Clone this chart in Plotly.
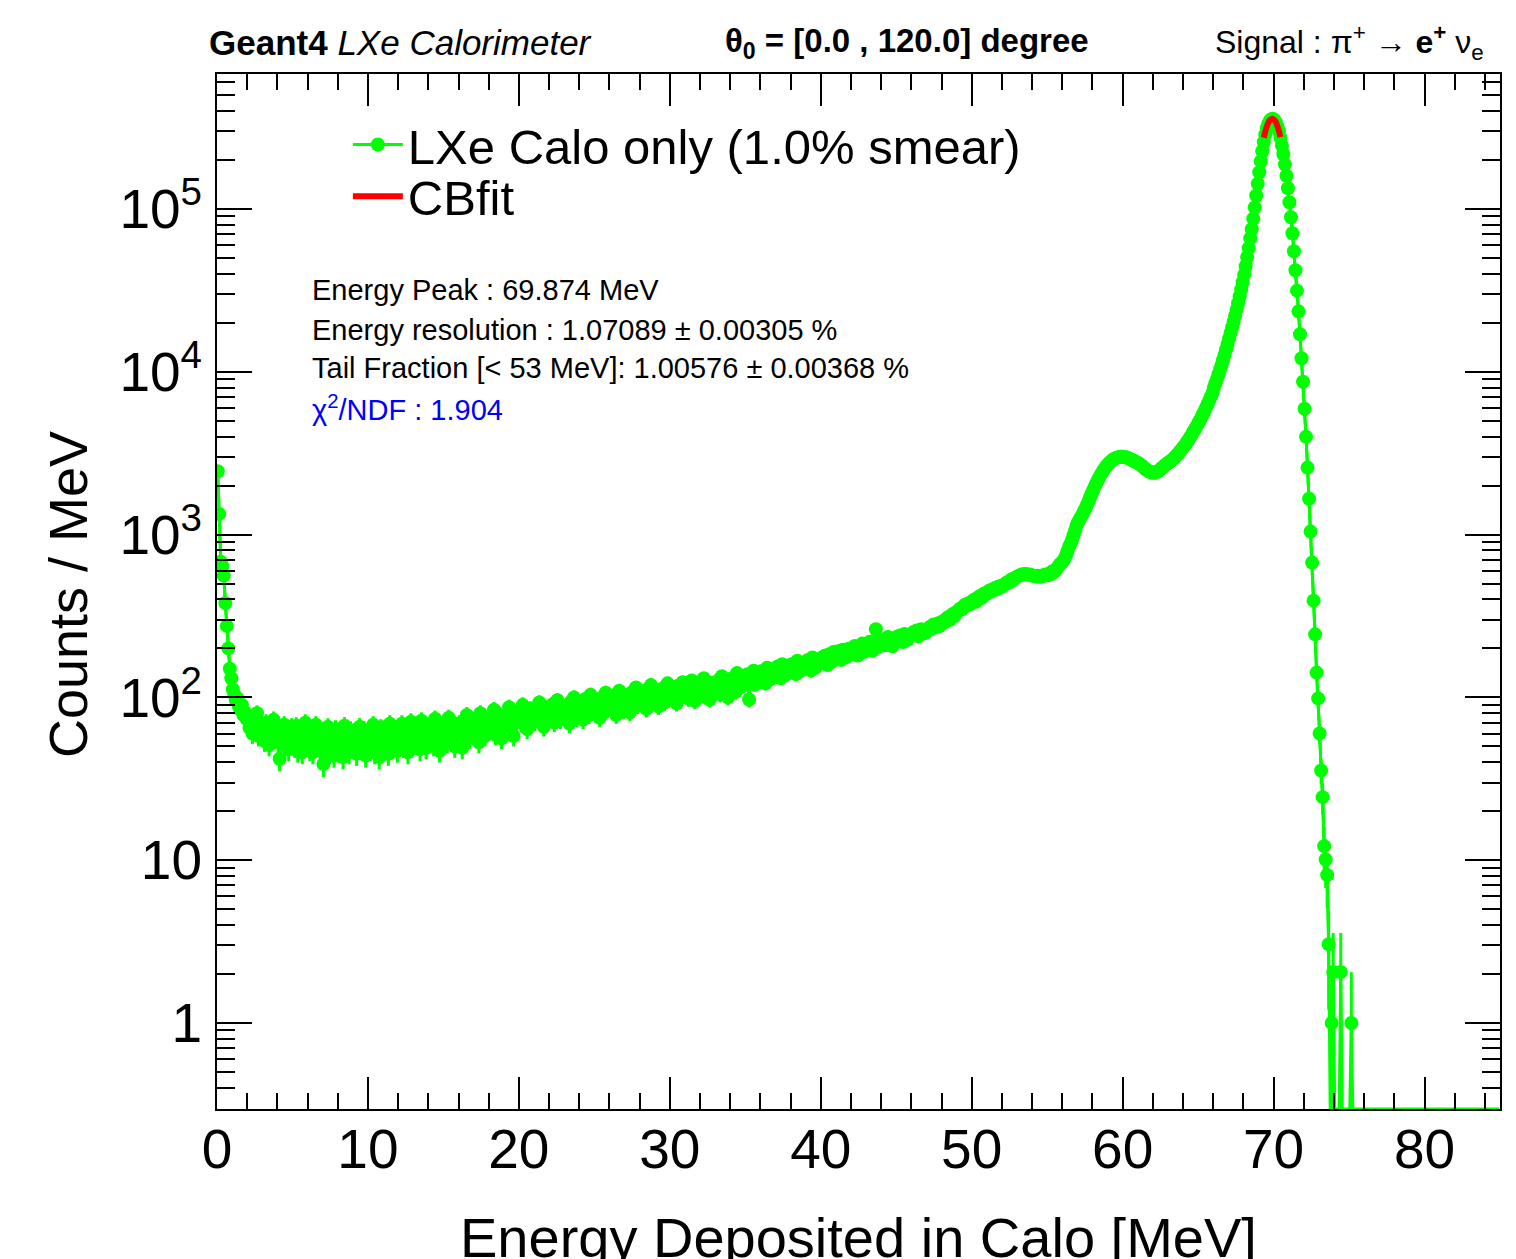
import numpy as np
import plotly.graph_objects as go

# ---------------- data (counts / MeV, 0.1 MeV bins) ----------------
bin_width = 0.1

counts_00_10 = [
    2450, 1340, 680, 640, 560, 380, 275, 200, 150, 131,
    112, 104, 96, 99, 88, 84, 90, 78, 81, 74,
    76, 65, 74, 60, 71, 67, 80, 58, 69, 63,
    66, 54, 70, 59, 51, 64, 61, 73, 56, 62,
    53, 42, 63, 56, 68, 51, 60, 48, 58, 66,
    61, 50, 67, 47, 57, 63, 46, 56, 70, 52,
    58, 48, 64, 46, 55, 68, 51, 62, 47, 57,
    39, 59, 53, 66, 46, 55, 61, 44, 64, 51,
    47, 62, 54, 43, 67, 53, 58, 46, 63, 55,
    50, 60, 45, 57, 66, 49, 54, 63, 44, 58]

counts_10_20 = [
    61, 48, 58, 68, 46, 60, 54, 43, 65, 52,
    64, 51, 59, 45, 69, 55, 49, 62, 57, 47,
    60, 53, 69, 50, 58, 65, 46, 62, 71, 55,
    63, 52, 68, 57, 48, 72, 56, 62, 49, 60,
    55, 69, 60, 51, 74, 58, 65, 47, 67, 57,
    66, 59, 53, 75, 61, 57, 70, 50, 64, 60,
    69, 62, 49, 72, 59, 78, 64, 56, 68, 61,
    60, 74, 66, 53, 80, 63, 71, 58, 69, 65,
    74, 63, 69, 84, 59, 72, 66, 78, 56, 71,
    66, 77, 70, 87, 68, 74, 58, 80, 72, 76]

counts_20_30 = [
    79, 70, 90, 73, 81, 64, 77, 85, 72, 78,
    71, 83, 77, 93, 74, 80, 66, 87, 76, 82,
    85, 75, 91, 70, 82, 96, 78, 73, 87, 80,
    79, 89, 82, 69, 94, 85, 100, 80, 75, 87,
    90, 81, 73, 97, 85, 88, 78, 104, 84, 89,
    84, 95, 87, 75, 99, 90, 81, 107, 86, 92,
    96, 85, 90, 103, 78, 93, 110, 87, 95, 83,
    90, 101, 94, 81, 107, 93, 97, 115, 89, 99,
    103, 92, 97, 110, 85, 100, 95, 119, 93, 102,
    96, 108, 88, 103, 99, 114, 93, 105, 122, 98]

counts_30_40 = [
    110, 99, 115, 104, 92, 118, 107, 101, 124, 103,
    105, 116, 98, 112, 127, 108, 95, 119, 111, 106,
    120, 109, 131, 101, 116, 112, 97, 123, 114, 118,
    113, 126, 117, 104, 135, 121, 110, 119, 100, 124,
    130, 118, 127, 108, 141, 122, 115, 133, 126, 119,
    124, 139, 97, 133, 128, 146, 120, 136, 130, 125,
    145, 132, 141, 122, 152, 137, 129, 148, 140, 134,
    139, 155, 144, 131, 160, 148, 137, 152, 143, 150,
    160, 147, 158, 139, 168, 152, 145, 162, 155, 150,
    157, 170, 161, 146, 176, 165, 152, 169, 160, 167]

counts_40_50 = [
    175, 163, 180, 168, 158, 184, 171, 166, 190, 174,
    178, 192, 180, 170, 196, 185, 176, 188, 199, 183,
    200, 188, 207, 192, 181, 203, 196, 214, 190, 199,
    212, 199, 220, 205, 194, 216, 262, 203, 210, 218,
    214, 227, 209, 221, 235, 216, 224, 206, 229, 222,
    236, 224, 240, 229, 219, 245, 233, 226, 238, 242,
    240, 252, 244, 258, 237, 250, 262, 246, 255, 249,
    258, 265, 272, 263, 280, 270, 276, 284, 273, 289,
    285, 296, 291, 305, 312, 300, 318, 325, 315, 332,
    336, 345, 352, 348, 360, 371, 365, 378, 372, 384]

counts_50_60 = [
    390, 398, 385, 405, 412, 420, 408, 428, 436, 430,
    440, 452, 446, 460, 455, 470, 462, 478, 472, 485,
    480, 492, 500, 510, 505, 520, 532, 525, 540, 548,
    555, 560, 565, 570, 568, 572, 570, 566, 568, 562,
    560, 556, 552, 558, 550, 554, 560, 556, 566, 562,
    572, 565, 580, 595, 588, 605, 620, 640, 660, 670,
    690, 710, 745, 790, 844, 880, 930, 990, 1060, 1140,
    1190, 1240, 1290, 1340, 1400, 1460, 1530, 1610, 1700, 1790,
    1880, 1970, 2060, 2150, 2240, 2330, 2420, 2500, 2580, 2650,
    2710, 2770, 2830, 2880, 2920, 2950, 2980, 3000, 3010, 3010]

counts_60_70 = [
    3010, 3000, 2980, 2950, 2920, 2890, 2860, 2830, 2800, 2770,
    2740, 2700, 2660, 2610, 2560, 2510, 2470, 2440, 2420, 2405,
    2395, 2400, 2420, 2450, 2490, 2540, 2590, 2640, 2690, 2730,
    2770, 2810, 2860, 2920, 2980, 3050, 3120, 3200, 3290, 3380,
    3470, 3570, 3680, 3800, 3930, 4070, 4220, 4380, 4550, 4720,
    4900, 5100, 5320, 5560, 5820, 6100, 6400, 6720, 7060, 7420,
    8000, 8500, 9050, 9650, 10300, 11000, 11800, 12700, 13700, 14800,
    16000, 17300, 18700, 20300, 22100, 24100, 26400, 29000, 32000, 35500,
    39500, 44500, 50500, 57500, 66000, 75000, 87000, 102000, 121000, 143000,
    168000, 196000, 226000, 257000, 287000, 313000, 334000, 348000, 356000, 358000]

counts_70_80 = [
    352000, 340000, 322000, 300000, 274000, 245000, 217000, 188000, 160000, 134000,
    110000, 89000, 71000, 55000, 42000, 31500, 23500, 17000, 12100, 8690,
    5930, 3990, 2580, 1660, 1043, 673, 393, 244, 142, 98.6,
    60, 35.6, 24.4, 12.2, 10.1, 8.1, 3.05, 0, 1, 2.06,
    0, 0, 0, 0, 2.06, 0, 0, 0, 0, 0,
    0, 1, 0, 0, 0, 0, 0, 0, 0, 0,
    0, 0, 0, 0, 0, 0, 0, 0, 0, 0,
    0, 0, 0, 0, 0, 0, 0, 0, 0, 0,
    0, 0, 0, 0, 0, 0, 0, 0, 0, 0,
    0, 0, 0, 0, 0, 0, 0, 0, 0, 0]

counts_80_85 = [
    0, 0, 0, 0, 0, 0, 0, 0, 0, 0,
    0, 0, 0, 0, 0, 0, 0, 0, 0, 0,
    0, 0, 0, 0, 0, 0, 0, 0, 0, 0,
    0, 0, 0, 0, 0, 0, 0, 0, 0, 0,
    0, 0, 0, 0, 0, 0, 0, 0, 0, 0]

# Crystal-Ball fit curve near the peak
fit_energy = [69.35, 69.45, 69.55, 69.65, 69.75, 69.85, 69.95, 70.05, 70.15, 70.25, 70.35, 70.45]
fit_counts = [274000, 299000, 321000, 339000, 351000, 357000, 358000, 352000, 341000, 323000, 301000, 276000]

x_tick_values = [0, 10, 20, 30, 40, 50, 60, 70, 80]
y_tick_values = [1, 10, 100, 1000, 10000, 100000]
y_tick_labels = ["1", "10", "10<sup>2</sup>", "10<sup>3</sup>", "10<sup>4</sup>", "10<sup>5</sup>"]

stats_lines = [
    ("Energy Peak : 69.874 MeV", "black"),
    ("Energy resolution : 1.07089 \u00b1 0.00305 %", "black"),
    ("Tail Fraction [< 53 MeV]: 1.00576 \u00b1 0.00368 %", "black"),
    ("\u03c7<sup>2</sup>/NDF : 1.904", "#0000ff"),
]

# ---------------- assemble ----------------
segments = [counts_00_10, counts_10_20, counts_20_30, counts_30_40, counts_40_50,
            counts_50_60, counts_60_70, counts_70_80]
for s in segments:
    assert len(s) == 100, len(s)
assert len(counts_80_85) == 50

counts = np.array(sum(segments, []) + counts_80_85, dtype=float)
energy = bin_width / 2 + bin_width * np.arange(len(counts))

Y_LOG_MIN, Y_LOG_MAX = -0.528, 5.829
YMIN = 10 ** Y_LOG_MIN
nonzero = counts > 0
y_line = np.where(nonzero, counts, YMIN)               # empty bins sit on the axis floor
y_pts = [float(c) if c > 0 else None for c in counts]   # markers only for filled bins
err = np.where(nonzero, np.sqrt(counts / 0.9), 0.0)
err_minus = np.where(nonzero, np.minimum(err, counts - YMIN * 0.5), 0.0)

GREEN = "#00ff00"
FONT = "Liberation Sans, Arial, Helvetica, sans-serif"

fig = go.Figure()
fig.add_trace(go.Scatter(
    x=energy, y=y_line, mode="lines", showlegend=False, hoverinfo="skip",
    line=dict(color=GREEN, width=3),
))
fig.add_trace(go.Scatter(
    x=energy, y=y_pts, mode="lines+markers", connectgaps=False,
    name="LXe Calo only (1.0% smear)", legend="legend",
    line=dict(color=GREEN, width=3),
    marker=dict(color=GREEN, size=14, line=dict(width=0)),
    error_y=dict(type="data", array=err, arrayminus=err_minus, symmetric=False,
                 color=GREEN, thickness=3, width=0),
))
fig.add_trace(go.Scatter(
    x=fit_energy, y=fit_counts, mode="lines", name="CBfit", legend="legend2",
    line=dict(color="#ff0000", width=6, shape="spline"),
))

minor_x = [v for v in range(2, 85, 2) if v % 10 != 0]
minor_y = []
for dec in range(-1, 6):
    for m in range(2, 10):
        v = m * 10.0 ** dec
        if YMIN <= v <= 10 ** Y_LOG_MAX:
            minor_y.append(v)

legend_style = dict(xanchor="left", yanchor="top",
                    font=dict(size=49, family=FONT, color="black"),
                    bgcolor="rgba(0,0,0,0)", itemsizing="trace", itemwidth=50,
                    tracegroupgap=0)

fig.update_layout(
    width=1516, height=1259, autosize=False,
    margin=dict(l=217, r=16, t=74, b=150, pad=0),
    plot_bgcolor="white", paper_bgcolor="white",
    font=dict(family=FONT, color="black"),
    showlegend=True,
    legend=dict(x=0.102, y=0.969, **legend_style),
    legend2=dict(x=0.102, y=0.919, **legend_style),
    xaxis=dict(range=[0, 85], showgrid=False, zeroline=False,
               showline=True, linecolor="black", linewidth=2, mirror="allticks",
               ticks="inside", ticklen=32, tickwidth=2, tickcolor="black",
               tickmode="array", tickvals=x_tick_values,
               ticktext=[str(v) for v in x_tick_values],
               tickfont=dict(size=55, family=FONT, color="black"),
               ticklabelstandoff=-9,
               minor=dict(tickmode="array", tickvals=minor_x, ticks="inside",
                          ticklen=16, tickwidth=2, tickcolor="black", showgrid=False)),
    yaxis=dict(type="log", range=[Y_LOG_MIN, Y_LOG_MAX], showgrid=False, zeroline=False,
               showline=True, linecolor="black", linewidth=2, mirror="allticks",
               ticks="inside", ticklen=35, tickwidth=2, tickcolor="black",
               tickmode="array", tickvals=y_tick_values, ticktext=y_tick_labels,
               tickfont=dict(size=55, family=FONT, color="black"),
               ticklabelstandoff=2,
               minor=dict(tickmode="array", tickvals=minor_y, ticks="inside",
                          ticklen=18, tickwidth=2, tickcolor="black", showgrid=False)),
)

annotations = []
# top header
annotations.append(dict(text="<b>Geant4</b> <i>LXe Calorimeter</i>", x=-0.008, y=1.030,
                        xref="paper", yref="paper", xanchor="left", yanchor="middle",
                        showarrow=False, font=dict(size=35, family=FONT, color="black")))
annotations.append(dict(text="<b>\u03b8<sub>0</sub> = [0.0 , 120.0] degree</b>", x=0.394, y=1.030,
                        xref="paper", yref="paper", xanchor="left", yanchor="middle",
                        showarrow=False, font=dict(size=33, family=FONT, color="black")))
annotations.append(dict(text="Signal : \u03c0<sup>+</sup> \u2192 <b>e<sup>+</sup></b> \u03bd<sub>e</sub>",
                        x=0.776, y=1.030, xref="paper", yref="paper", xanchor="left",
                        yanchor="middle", showarrow=False,
                        font=dict(size=32, family=FONT, color="black")))
# stats box
stat_y = [0.7913, 0.7527, 0.7160, 0.6773]
for (txt, col), yy in zip(stats_lines, stat_y):
    annotations.append(dict(text=txt, x=0.0725, y=yy, xref="paper", yref="paper",
                            xanchor="left", yanchor="middle", showarrow=False,
                            font=dict(size=29, family=FONT, color=col)))
# axis titles
annotations.append(dict(text="Energy Deposited in Calo [MeV]", x=0.5, y=-0.1237,
                        xref="paper", yref="paper", xanchor="center", yanchor="middle",
                        showarrow=False, font=dict(size=56, family=FONT, color="black")))
annotations.append(dict(text="Counts / MeV", x=-0.1161, y=0.4966, textangle=-90,
                        xref="paper", yref="paper", xanchor="center", yanchor="middle",
                        showarrow=False, font=dict(size=54, family=FONT, color="black")))
fig.update_layout(annotations=annotations)

fig.write_html("out.html")
